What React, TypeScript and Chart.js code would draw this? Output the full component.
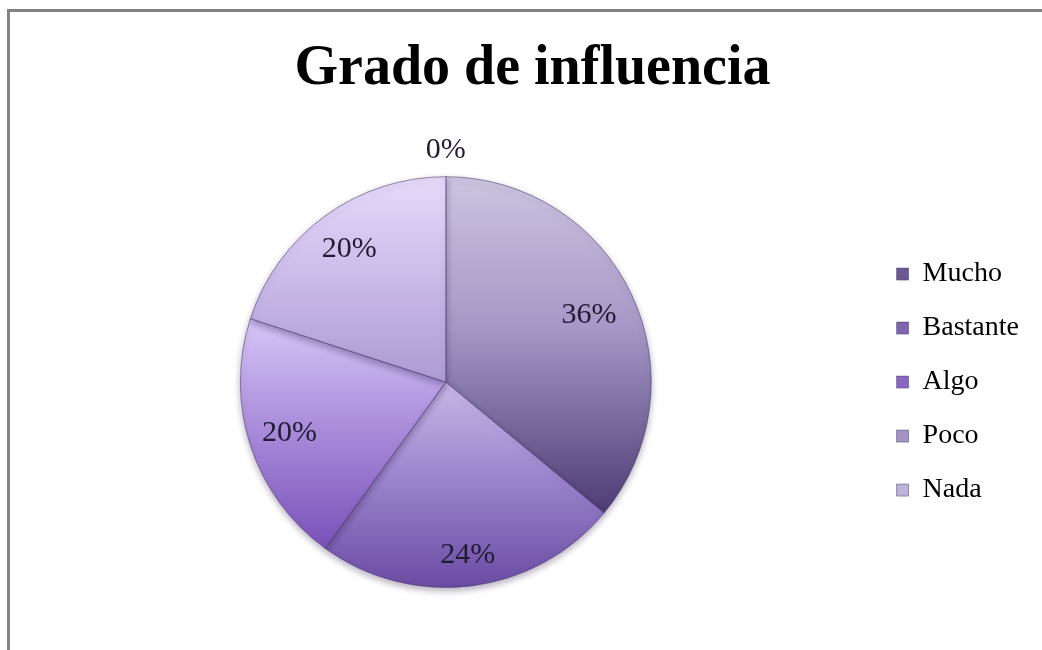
import React, { useEffect, useRef } from 'react';
import { Chart, registerables, layouts } from 'chart.js';

Chart.register(...registerables);

// ---- data ----
const categories = ['Mucho', 'Bastante', 'Algo', 'Poco', 'Nada'];
const percentages = [36, 24, 20, 20, 0];
const chartTitle = 'Grado de influencia';

// ---- styles ----
const sliceTop = ['#cdc4e0', '#c8b7e6', '#d8c6f7', '#e6daf9', '#ddd6ec'];
const sliceMid = ['#a597c6', '#9d86ce', '#ab8fdc', '#cdbdeb', '#cbc2e0'];
const sliceBottom = ['#4d3c74', '#6a4ba3', '#7a51b9', '#ad9bd2', '#b8aed4'];
const legendFill = ['#6b5a92', '#7d66ad', '#8767bf', '#a494c6', '#bcb3d8'];
const labelRadiusFactor = [0.77, 0.85, 0.8, 0.8];

function sliceGradient(c: any) {
  const chart = c.chart;
  const area = chart.chartArea;
  const i: number = c.dataIndex ?? 0;
  if (!area) return sliceMid[i];
  const cy = (area.top + area.bottom) / 2;
  const r = Math.min(area.right - area.left, area.bottom - area.top) / 2;
  const total = percentages.reduce((a, b) => a + b, 0);
  let before = 0;
  for (let k = 0; k < i; k++) before += percentages[k];
  const start = (before / total) * Math.PI * 2 - Math.PI / 2;
  const end = ((before + percentages[i]) / total) * Math.PI * 2 - Math.PI / 2;
  let ymin = cy;
  let ymax = cy;
  for (let k = 0; k <= 60; k++) {
    const a = start + ((end - start) * k) / 60;
    const y = cy + r * Math.sin(a);
    ymin = Math.min(ymin, y);
    ymax = Math.max(ymax, y);
  }
  if (ymax - ymin < 1) ymax = ymin + 1;
  const g = chart.ctx.createLinearGradient(0, ymin, 0, ymax);
  g.addColorStop(0, sliceTop[i]);
  g.addColorStop(0.45, sliceMid[i]);
  g.addColorStop(1, sliceBottom[i]);
  return g;
}

const pctLabels = {
  id: 'pctLabels',
  beforeDatasetsDraw(chart: any) {
    const ctx = chart.ctx;
    ctx.save();
    ctx.shadowColor = 'rgba(40,20,70,0.35)';
    ctx.shadowBlur = 7;
    ctx.shadowOffsetY = 3;
  },
  afterDatasetsDraw(chart: any) {
    const ctx = chart.ctx;
    ctx.restore();
    const meta = chart.getDatasetMeta(0);
    ctx.save();
    ctx.font = '30px "Liberation Serif", serif';
    ctx.fillStyle = '#221b33';
    ctx.textAlign = 'center';
    ctx.textBaseline = 'middle';
    meta.data.forEach((arc: any, i: number) => {
      const p = arc.getProps(['x', 'y', 'startAngle', 'endAngle', 'outerRadius'], true);
      const mid = (p.startAngle + p.endAngle) / 2;
      const rr =
        percentages[i] === 0 ? p.outerRadius + 27 : p.outerRadius * (labelRadiusFactor[i] ?? 0.8);
      ctx.fillText(percentages[i] + '%', p.x + Math.cos(mid) * rr, p.y + Math.sin(mid) * rr);
    });
    ctx.restore();
  },
};

// empty layout box to the right of the legend, so the legend sits a little inward
const rightGap = {
  id: 'rightGap',
  beforeInit(chart: any) {
    const box: any = {
      position: 'right',
      weight: 3000,
      fullSize: false,
      options: {},
      width: 15,
      height: 0,
      left: 0,
      top: 0,
      right: 0,
      bottom: 0,
      isHorizontal: () => false,
      getPadding: () => ({ top: 0, left: 0, right: 0, bottom: 0 }),
      update(maxWidth: number, maxHeight: number) {
        box.width = 15;
        box.height = maxHeight;
      },
      draw() {},
    };
    layouts.addBox(chart, box);
  },
};

export default function App() {
  const ref = useRef<HTMLCanvasElement | null>(null);
  useEffect(() => {
    if (!ref.current) return;
    const chart = new Chart(ref.current, {
      type: 'pie',
      data: {
        labels: categories,
        datasets: [
          {
            data: percentages,
            backgroundColor: sliceGradient as any,
            borderColor: 'rgba(70,52,100,0.55)',
            borderWidth: 1,
          },
        ],
      },
      options: {
        responsive: false,
        animation: false,
        devicePixelRatio: 1,
        layout: { padding: { left: 11, right: 0, top: 0, bottom: 62 } },
        plugins: {
          title: {
            display: true,
            text: chartTitle,
            color: '#000000',
            font: { family: '"Liberation Serif", serif', size: 56, weight: 'bold' },
            padding: { top: 24, bottom: 73 },
          },
          legend: {
            position: 'right',
            fullSize: false,
            labels: {
              font: { family: '"Liberation Serif", serif', size: 28 },
              color: '#1a1a1a',
              boxWidth: 12,
              boxHeight: 12,
              padding: 26,
              generateLabels: () =>
                categories.map((name, i) => ({
                  text: name,
                  fillStyle: legendFill[i],
                  strokeStyle: 'rgba(80,60,110,0.5)',
                  lineWidth: 1,
                  hidden: false,
                  index: i,
                  datasetIndex: 0,
                })),
            },
          },
          tooltip: { enabled: false },
        },
      },
      plugins: [pctLabels, rightGap],
    });
    return () => chart.destroy();
  }, []);
  return (
    <div
      style={{
        position: 'absolute',
        left: 7,
        top: 9,
        width: 1035,
        height: 641,
        borderTop: '3px solid #828282',
        borderLeft: '3px solid #828282',
        boxSizing: 'border-box',
        overflow: 'hidden',
        background: '#ffffff',
      }}
    >
      <canvas ref={ref} width={1034} height={638} style={{ display: 'block', width: 1034, height: 638 }} />
    </div>
  );
}
